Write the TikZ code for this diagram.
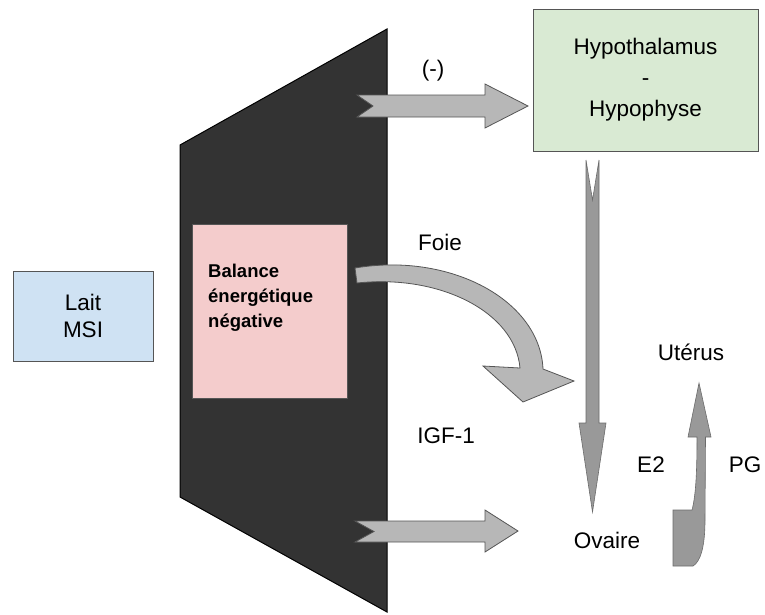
\documentclass[tikz,border=0pt]{standalone}
\usepackage{fontspec}
\setmainfont{Liberation Sans}
\definecolor{lblue}{HTML}{CFE2F3}
\definecolor{lpink}{HTML}{F4CCCC}
\definecolor{lgreen}{HTML}{D9EAD3}
\definecolor{dark}{HTML}{333333}
\definecolor{agray}{HTML}{B7B7B7}
\definecolor{vgray}{HTML}{999999}
\definecolor{edge}{HTML}{555555}
\tikzset{
  box/.style={draw=edge, line width=0.9pt, inner sep=0pt, align=center, font=\fontsize{22.5}{31}\selectfont},
  lbl/.style={font=\fontsize{22.5}{25}\selectfont, inner sep=0pt},
  fatarrow/.style={fill=agray, draw=edge, line width=0.8pt, line join=miter},
  thinarrow/.style={fill=vgray, draw=vgray!70!black, line width=0.6pt},
}
\begin{document}
\begin{tikzpicture}[x=1pt,y=-1pt]
\useasboundingbox (0,0) rectangle (765,614);
% trapezoid
\draw[fill=dark, draw=black, line width=1pt] (180,145) -- (387,29) -- (387,612) -- (180,497) -- cycle;
% block arrows
\draw[fatarrow] (357,95) -- (485,95) -- (485,84) -- (528,106) -- (485,128) -- (485,117) -- (357,117) -- (373,106) -- cycle;
\draw[fatarrow] (355,521) -- (485,521) -- (485,510) -- (518,531) -- (485,552) -- (485,542) -- (355,542) -- (374,531.5) -- cycle;
% boxes
\node[box, fill=lblue, minimum width=140pt, minimum height=90pt, font=\fontsize{22.5}{27}\selectfont] (lait) at (83,316) {Lait\\MSI};
\node[box, fill=lpink, minimum width=155pt, minimum height=174pt] (bal) at (269.5,311) {};
\node[anchor=north west, inner sep=0pt, align=left, font=\fontsize{18.5}{25}\bfseries] (baltxt) at (208,264) {Balance\\énergétique\\négative};
\node[box, fill=lgreen, minimum width=225pt, minimum height=142pt] (hh) at (645.5,80) {Hypothalamus\\-\\Hypophyse};
% curved arrow (Foie)
\draw[fatarrow] (355,268) .. controls (450,252) and (540,300) .. (543,369)
  -- (574,381) -- (523,402) -- (483,366) -- (520,368)
  .. controls (515,312) and (440,274) .. (357,283) -- cycle;
% vertical arrow
\draw[thinarrow] (586,160) -- (592.5,200) -- (599,160) -- (599,423) -- (606,423) -- (592.5,512) -- (579,423) -- (586,423) -- cycle;
% uterus arrow
\draw[thinarrow] (699,383) -- (711,437) -- (705.5,437) -- (705,520) .. controls (705,548) and (700,562) .. (693,566)
  -- (673,566) -- (673,510) -- (692,510) .. controls (696,495) and (697,470) .. (697,437) -- (688,437) -- cycle;
% labels
\node[lbl] (minus) at (433,71) {(-)};
\node[lbl] (foie) at (440,242) {Foie};
\node[lbl] (igf) at (446,436) {IGF-1};
\node[lbl] (ut) at (691,352) {Utérus};
\node[lbl] (e2) at (651,465) {E2};
\node[lbl] (pg) at (745,465) {PG};
\node[lbl] (ov) at (607,540) {Ovaire};
\end{tikzpicture}
\end{document}
